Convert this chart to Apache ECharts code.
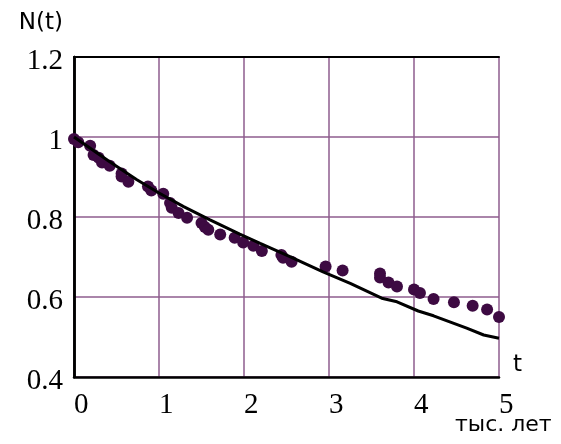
<!DOCTYPE html>
<html>
<head>
<meta charset="utf-8">
<script src="https://cdn.jsdelivr.net/npm/echarts@6/dist/echarts.min.js"></script>
<style>
  html, body { margin: 0; padding: 0; background: #fff; }
  #chart { width: 561px; height: 444px; }
</style>
</head>
<body>
<div id="chart"></div>
<script>
const pointsT = [0.0, 0.05, 0.19, 0.23, 0.29, 0.33, 0.42, 0.56, 0.56, 0.64, 0.87, 0.91,
  1.05, 1.13, 1.15, 1.23, 1.33, 1.50, 1.54, 1.58, 1.72, 1.89, 1.99, 2.11, 2.21,
  2.44, 2.46, 2.56, 2.96, 3.16, 3.60, 3.60, 3.70, 3.80, 4.00, 4.07, 4.23, 4.47,
  4.69, 4.86, 5.0];
const pointsN = [0.995, 0.987, 0.978, 0.955, 0.948, 0.936, 0.928, 0.909, 0.901, 0.888, 0.876, 0.866,
  0.858, 0.835, 0.823, 0.810, 0.798, 0.785, 0.775, 0.768, 0.756, 0.748, 0.736, 0.728, 0.715,
  0.705, 0.698, 0.688, 0.676, 0.666, 0.659, 0.649, 0.636, 0.626, 0.619, 0.610, 0.595, 0.587,
  0.578, 0.569, 0.550];

// model curve
const curveT = [0, 0.42, 0.74, 1.0, 1.29, 1.6, 1.95, 2.19, 2.54, 2.93, 3.25, 3.62,
  3.8, 4.05, 4.23, 4.62, 4.82, 5.0];
const curveN = [1.0, 0.938, 0.893, 0.86, 0.826, 0.793, 0.757, 0.734, 0.701, 0.663, 0.634, 0.597,
  0.588, 0.565, 0.553, 0.522, 0.505, 0.497];

const xName = 't';
const yName = 'N(t)';
const unitLabel = 'тыс. лет';

const zip = (a, b) => a.map((v, i) => [v, b[i]]);

const serif = 'Liberation Serif';
const sans = 'DejaVu Sans';
const gridColor = '#8e5c8e';

const chart = echarts.init(document.getElementById('chart'), null, { renderer: 'canvas' });
chart.setOption({
  animation: false,
  backgroundColor: '#fff',
  title: {
    text: unitLabel,
    left: 455, top: 414, padding: 0,
    textStyle: { fontFamily: sans, fontSize: 22, fontWeight: 'normal', color: '#000' }
  },
  grid: { left: 74, right: 62, top: 57, bottom: 67 },
  xAxis: [{
    type: 'value', min: 0, max: 5, interval: 1,
    name: xName, nameLocation: 'end', nameGap: 14,
    nameTextStyle: { fontFamily: sans, fontSize: 23, color: '#000', align: 'left', verticalAlign: 'bottom', padding: [0, 0, 0, 0] },
    axisLine: { show: true, onZero: false, lineStyle: { color: '#000', width: 2.5 } },
    axisTick: { show: false },
    splitLine: { show: true, lineStyle: { color: gridColor, width: 1.5 } },
    axisLabel: { fontFamily: serif, fontSize: 29, color: '#000', align: 'left', margin: 14 }
  }, {
    type: 'value', min: 0, max: 5, position: 'top',
    axisLine: { show: true, lineStyle: { color: '#000', width: 2 } },
    axisTick: { show: false }, axisLabel: { show: false }, splitLine: { show: false }
  }],
  yAxis: [{
    type: 'value', min: 0.4, max: 1.2, interval: 0.2,
    name: yName, nameLocation: 'end', nameGap: 22,
    nameTextStyle: { fontFamily: sans, fontSize: 23, color: '#000', align: 'right', verticalAlign: 'bottom', padding: [0, 11, 0, 0] },
    axisLine: { show: true, onZero: false, lineStyle: { color: '#000', width: 2.5 } },
    axisTick: { show: false },
    splitLine: { show: true, lineStyle: { color: gridColor, width: 1.5 } },
    axisLabel: { fontFamily: serif, fontSize: 29, color: '#000', margin: 11, verticalAlign: 'top', lineHeight: 8 }
  }, {
    type: 'value', min: 0.4, max: 1.2, position: 'right',
    axisLine: { show: true, lineStyle: { color: '#000', width: 2.5 } },
    axisTick: { show: false }, axisLabel: { show: false }, splitLine: { show: false }
  }],
  series: [{
    type: 'scatter',
    data: zip(pointsT, pointsN),
    symbol: 'circle', symbolSize: 12,
    itemStyle: { color: '#3d0a42', opacity: 1 },
    z: 3
  }, {
    type: 'line',
    data: zip(curveT, curveN),
    showSymbol: false,
    lineStyle: { color: '#000', width: 3 },
    z: 4
  }]
});
</script>
</body>
</html>
